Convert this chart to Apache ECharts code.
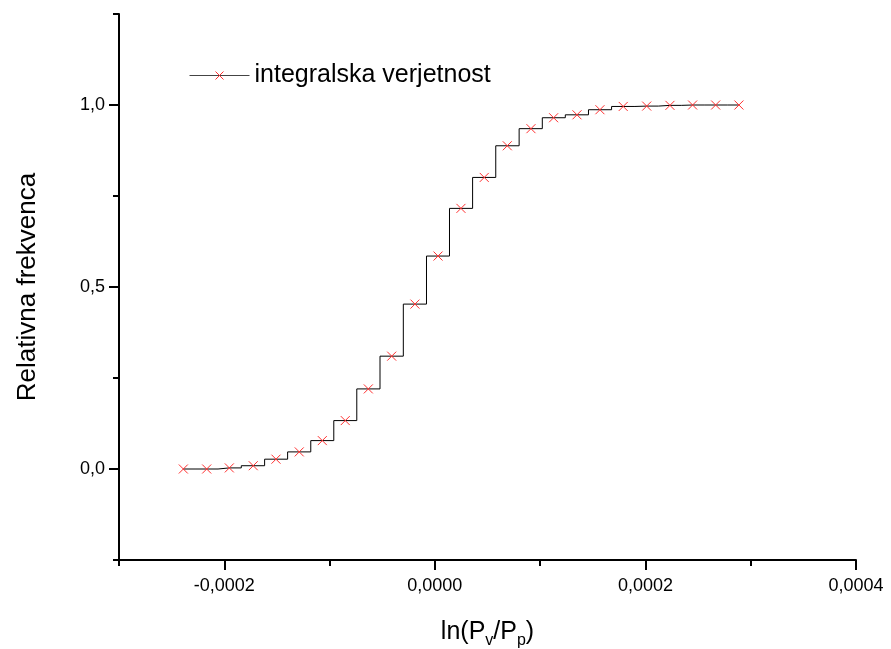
<!DOCTYPE html>
<html>
<head>
<meta charset="utf-8">
<script src="https://cdn.jsdelivr.net/npm/echarts@6/dist/echarts.min.js"></script>
<style>
html,body{margin:0;padding:0;background:#fff;}
#chart{width:891px;height:649px;}
</style>
</head>
<body>
<div id="chart"></div>
<script>
// Data
const xValues = [-0.0002389, -0.0002167, -0.0001952, -0.0001725, -0.0001509, -0.0001288,
  -0.0001069, -0.0000851, -0.0000632, -0.0000410, -0.0000189, 0.0000030, 0.0000248,
  0.0000469, 0.0000688, 0.0000913, 0.0001128, 0.0001350, 0.0001568, 0.0001789,
  0.0002012, 0.0002233, 0.0002448, 0.0002667, 0.0002888];
const yValues = [0.000, 0.000, 0.003, 0.009, 0.027, 0.047, 0.078, 0.133, 0.220, 0.310,
  0.453, 0.585, 0.716, 0.801, 0.888, 0.935, 0.965, 0.973, 0.987, 0.996,
  0.997, 0.999, 1.000, 1.000, 1.000];
const seriesName = 'integralska verjetnost';
const xMajorTicks = [-0.0002, 0, 0.0002, 0.0004];
const xMinorTicks = [-0.0003, -0.0001, 0.0001, 0.0003];
const yMajorTicks = [0, 0.5, 1.0];
const yMinorTicks = [-0.25, 0.25, 0.75, 1.25];

const FONT = '"Liberation Sans", Arial, sans-serif';
const chart = echarts.init(document.getElementById('chart'), null, {renderer: 'canvas'});
const fmtX = v => (Math.abs(v) < 1e-12 ? 0 : v).toFixed(4).replace('.', ',');
const fmtY = v => (Math.abs(v) < 1e-12 ? 0 : v).toFixed(1).replace('.', ',');

const axisLine = {show: true, onZero: false, lineStyle: {color: '#000', width: 2}};
const data = xValues.map((x, i) => [x, yValues[i]]);

chart.setOption({
  animation: false,
  backgroundColor: '#fff',
  grid: {left: 119, top: 14, right: 35, bottom: 89, containLabel: false, outerBoundsMode: 'none'},
  legend: {
    left: 184, top: 58,
    itemWidth: 60, itemHeight: 10, itemGap: 8,
    textStyle: {fontFamily: FONT, fontSize: 25, color: '#000'},
    data: [{name: seriesName, itemStyle: {borderWidth: 1}, lineStyle: {color: '#444', width: 1}}]
  },
  xAxis: [{
    type: 'value', min: -0.0003, max: 0.0004,
    axisLine: axisLine,
    splitLine: {show: false},
    axisTick: {show: true, inside: false, length: 10, lineStyle: {color: '#000', width: 2}, customValues: xMajorTicks},
    axisLabel: {show: true, customValues: xMajorTicks, formatter: fmtX, fontFamily: FONT, fontSize: 18, color: '#000', margin: 17},
    name: '{n|ln(P}{s|v}{n|/P}{s|p}{n|)}',
    nameLocation: 'middle', nameGap: 55,
    nameTextStyle: {
      rich: {
        n: {fontFamily: FONT, fontSize: 25, color: '#000'},
        s: {fontFamily: FONT, fontSize: 16, color: '#000', padding: [18, 0, 0, 0]}
      }
    }
  }, {
    type: 'value', min: -0.0003, max: 0.0004, position: 'bottom',
    axisLine: {show: false, onZero: false},
    splitLine: {show: false},
    axisTick: {show: true, inside: false, length: 6, lineStyle: {color: '#000', width: 2}, customValues: xMinorTicks},
    axisLabel: {show: false}
  }],
  yAxis: [{
    type: 'value', min: -0.25, max: 1.25,
    axisLine: axisLine,
    splitLine: {show: false},
    axisTick: {show: true, inside: false, length: 10, lineStyle: {color: '#000', width: 2}, customValues: yMajorTicks},
    axisLabel: {show: true, customValues: yMajorTicks, formatter: fmtY, fontFamily: FONT, fontSize: 18, color: '#000', margin: 14},
    name: 'Relativna frekvenca',
    nameLocation: 'middle', nameGap: 78, nameRotate: 90,
    nameTextStyle: {fontFamily: FONT, fontSize: 26, color: '#000'}
  }, {
    type: 'value', min: -0.25, max: 1.25, position: 'left',
    axisLine: {show: false, onZero: false},
    splitLine: {show: false},
    axisTick: {show: true, inside: false, length: 6, lineStyle: {color: '#000', width: 2}, customValues: yMinorTicks},
    axisLabel: {show: false}
  }],
  series: [{
    name: seriesName,
    type: 'line',
    step: 'middle',
    xAxisIndex: 0, yAxisIndex: 0,
    data: data,
    showSymbol: true,
    symbol: 'path://M0,0L10,10M10,0L0,10',
    symbolSize: 9,
    lineStyle: {color: '#000', width: 1},
    itemStyle: {color: '#ff0000', borderColor: '#ff3030', borderWidth: 1},
    emphasis: {disabled: true}
  }]
});
</script>
</body>
</html>
